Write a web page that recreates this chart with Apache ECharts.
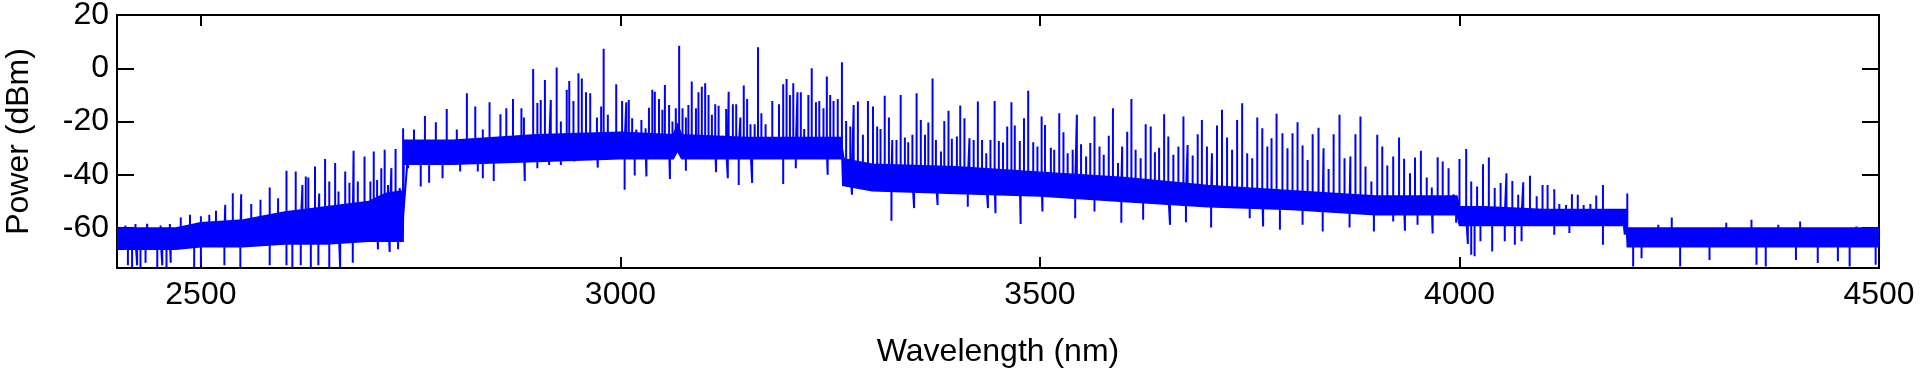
<!DOCTYPE html>
<html><head><meta charset="utf-8">
<script src="https://cdn.jsdelivr.net/npm/echarts@6/dist/echarts.min.js"></script>
<style>html,body{margin:0;padding:0;background:#fff}#c{width:1920px;height:378px}</style>
</head><body><div id="c"></div>
<script>
// ---- axis ticks ----
const xTicks = [2500, 3000, 3500, 4000, 4500];
const yTicks = [-60, -40, -20, 0, 20];

// ---- noise-floor envelope (nm, upper dBm, lower dBm) ----
const bandWl = [2400,2470,2500,2550,2600,2650,2700,2720,2741,2742,2800,2900,3000,3063,3068,3073,3150,3264,3265,3300,3400,3500,3600,3700,3800,3900,3997,4000,4030,4100,4199,4200,4300,4400,4500];
const bandHi = [-60,-60,-58,-57,-54,-52,-50,-47,-46,-27,-27,-25,-24,-25,-21,-25,-26,-26,-34,-36,-37,-39,-41,-44,-46,-48,-48,-52,-52,-53,-53,-60,-60,-60,-60];
const bandLo = [-68,-68,-67,-67,-66,-66,-65,-65,-65,-36,-36,-35,-34,-34,-31,-34,-34,-34,-44,-46,-47,-48,-50,-52,-53,-55,-55,-59,-59,-59,-59,-67,-67,-67,-67];

// ---- comb lines (nm, peak dBm) ----
const combPeaks = [
[2410,-59],[2422,-58.5],[2436,-58.4],[2452,-59],[2463,-58.5],[2476,-56],[2487,-55],[2496,-58],[2500,-55.6],[2510,-55],
[2518,-53.5],[2529,-51.3],[2538,-46.9],[2548,-47.3],[2560,-51],[2571,-49.4],[2582,-44.8],[2592,-48.8],[2602,-38.5],[2613,-38.8],
[2621,-43.8],[2625,-40.6],[2628,-41],[2636,-36.9],[2641,-47],[2648,-34.1],[2653,-42.5],[2660,-35.6],[2664,-46.3],[2672,-38.8],
[2677,-43],[2682,-31],[2687,-42.5],[2695,-33.1],[2702,-42.5],[2706,-31.3],[2710,-42],[2715,-37.5],[2719,-30.6],[2723,-43.8],
[2727,-37.5],[2732,-30.3],[2737,-45],[2741,-22.5],[2754,-23],[2767,-17.9],[2780,-20.3],[2793,-15.3],[2805,-23],[2817,-9.4],
[2827,-14.4],[2836,-23],[2844,-12.8],[2857,-17.3],[2864,-15],[2872,-11.5],[2882,-15],[2885,-18.5],[2896,-0.3],[2901,-13],
[2905,-11.9],[2910,-4.4],[2917,-11.9],[2924,0.3],[2929,-20],[2936,-8.1],[2939,-4.8],[2944,-12.3],[2950,-1.9],[2954,-3.8],
[2959,-9],[2964,-9.4],[2972,-18.5],[2977,-14.4],[2980,7.3],[2985,-17.5],[2995,-6],
[3002,-12.3],[3007,-12.8],[3010,-11.9],[3014,-18.8],[3019,-23],[3025,-19.4],[3030,-22.5],[3034,-14.8],[3038,-8.1],[3041,-8.8],
[3046,-11.5],[3050,-15.6],[3053,-6.3],[3058,-13.8],[3062,-20],[3066,-15],[3070,8.5],[3074,-15],[3078,-18.5],[3081,-13.8],
[3085,-5],[3090,-15],[3093,-9],[3097,-6.9],[3101,-5.6],[3105,-10],[3109,-17.5],[3113,-13.5],[3117,-14.1],[3122,-25.3],
[3126,-15.3],[3129,-8.8],[3134,-13.5],[3138,-13.5],[3143,-18.5],[3147,-6.5],[3151,-11.5],[3155,-21],[3160,-21],[3164,7.9],
[3168,-16.9],[3173,-21],[3181,-12.3],[3189,-13.5],[3194,-6],[3198,-4],[3202,-10],[3206,-5.6],[3211,-9],[3215,-9],
[3219,-22.8],[3224,-10],[3228,0],[3233,-12.8],[3237,-12.3],[3242,-15],[3246,-3.1],[3250,-10],[3254,-12.3],[3259,-11.5],
[3264,2.3],[3269,-19.8],[3274,-21.9],[3278,-13.8],[3283,-12.5],[3289,-25],[3295,-12.3],
[3301,-14.4],[3306,-21.9],[3310,-22.8],[3315,-10.3],[3320,-18.5],[3324,-26.9],[3329,-26.9],[3334,-10],[3339,-26],[3343,-27.8],
[3348,-25],[3353,-9.4],[3358,-19.4],[3363,-25],[3367,-20.4],[3372,-3.8],[3376,-26.9],[3382,-31.3],[3386,-19.8],[3391,-16],
[3395,-26.5],[3401,-25.6],[3405,-14],[3410,-18.8],[3416,-26.3],[3421,-26.9],[3426,-12.5],[3431,-26.9],[3436,-31.9],[3441,-26.9],
[3446,-12.3],[3451,-27.3],[3456,-27.9],[3461,-21.9],[3466,-12.8],[3470,-21.5],[3476,-27.3],[3481,-18.8],[3486,-8.4],[3492,-27.8],
[3497,-29.4],[3502,-18.1],[3506,-21.3],[3513,-29.8],[3517,-30.6],[3523,-16.9],[3528,-24],[3533,-31.9],[3539,-30.6],[3544,-17.5],
[3549,-28.5],[3555,-33.1],[3560,-28.1],[3565,-18.1],[3571,-29.4],[3576,-32.5],[3582,-25.3],[3587,-15],[3593,-35.6],[3598,-29.4],
[3604,-23.8],[3609,-11.5],[3614,-30.6],[3620,-33.8],[3626,-21],[3632,-21.9],[3637,-31.5],[3642,-29.8],[3648,-17.3],[3653,-25.6],
[3659,-32.5],[3665,-29.4],[3671,-18.1],[3676,-28.8],[3682,-32.8],[3688,-24.8],[3693,-19.4],[3699,-29.4],[3705,-31.9],[3711,-21.5],
[3717,-15.6],[3723,-26],[3729,-30.6],[3735,-19.4],[3741,-13.1],[3747,-31.9],[3753,-33.8],[3759,-18.5],[3765,-22.5],[3771,-29.4],
[3776,-26.3],[3782,-17.1],[3789,-24.4],[3795,-30],[3801,-24.4],[3807,-20.3],[3813,-29],[3819,-34.4],[3825,-24.8],[3832,-22.3],
[3838,-30],[3844,-37.8],[3850,-24.8],[3857,-17.5],[3863,-33.8],[3870,-33.1],[3876,-24.8],[3882,-18.1],[3888,-36.9],[3895,-42.5],
[3902,-25],[3908,-29.4],[3914,-36.5],[3921,-33.1],[3928,-26],[3934,-34],[3941,-39.4],[3947,-33.5],[3954,-31],[3961,-41],
[3967,-44.8],[3974,-33.4],[3980,-35],[3987,-37.5],[3993,-47.3],[4000,-34.1],[4008,-30.3],[4014,-42.5],[4021,-44.4],[4028,-36],
[4035,-33.5],[4042,-45],[4049,-43.1],[4056,-39.4],[4063,-42.3],[4070,-47.5],[4076,-42.8],[4084,-40.4],[4092,-48.1],[4099,-43.8],
[4105,-43.8],[4113,-45.4],[4119,-51],[4127,-51.3],[4134,-47.3],[4141,-47.5],[4148,-51.3],[4156,-51],[4163,-47.8],[4171,-43.8],
[4179,-53.1],[4186,-53.4],[4195,-53.8],[4200,-47],
[4237,-58.8],[4253,-56],[4318,-58],[4348,-56.9],[4380,-58.8],[4406,-57.5],[4473,-59.4]
];

// ---- downward noise dips (nm, dBm) ----
const noiseDips = [
[2413,-74],[2418,-75],[2424,-74],[2428,-75],[2434,-73],[2448,-75],[2454,-74],[2459,-75],[2464,-73],[2492,-75],
[2500,-74],[2528,-74],[2547,-75],[2582,-74],[2602,-74],[2609,-75],[2619,-74],[2631,-75],[2640,-74],[2653,-75],
[2666,-75],[2681,-73],[2711,-68],[2725,-69],[2735,-68],
[2747,-37.5],[2762,-44.4],[2772,-43],[2788,-41.3],[2809,-38.8],[2830,-38.8],[2836,-41.3],[2849,-42.3],[2886,-42.3],[2901,-37.5],
[2915,-36.3],[2929,-36.3],[2945,-35],[2973,-37.3],
[3005,-45.6],[3017,-40.3],[3031,-40.6],[3059,-41.6],[3078,-38.5],[3114,-39],[3128,-41.3],[3141,-43.8],[3157,-43.1],[3194,-43.5],
[3209,-37.5],[3247,-40],[3276,-47.5],
[3323,-57.3],[3350,-52.5],[3378,-51.3],[3414,-52],[3438,-52.5],[3447,-54.4],[3477,-58.5],[3503,-53.8],[3542,-56.3],[3565,-53.8],
[3597,-58],[3623,-56.9],[3655,-58.8],[3674,-57.8],[3704,-59.8],[3750,-56.3],[3766,-59.4],[3786,-60.6],[3813,-58.8],[3837,-61.3],
[3869,-59.8],[3898,-61.3],[3921,-57.5],[3935,-61],[3950,-58.8],[3968,-62],[3996,-58],[4010,-66],[4014,-70],[4018,-70.6],
[4025,-65],[4039,-68.8],[4054,-65],[4066,-66.3],[4074,-65],[4113,-62.5],[4131,-61.9],[4171,-66.3],[4197,-62.5],
[4207,-74.4],[4217,-71.3],[4263,-74.4],[4298,-72],[4354,-73.8],[4365,-74.4],[4401,-72],[4427,-73.1],[4451,-72.5],[4465,-74.4],
[4496,-73.8]
];

// anchor of each spike inside the noise band (middle of the envelope)
function bandMid(w) {
  for (let i = 1; i < bandWl.length; i++) {
    if (w <= bandWl[i]) {
      const t = (w - bandWl[i - 1]) / (bandWl[i] - bandWl[i - 1]);
      const a = (bandHi[i - 1] + bandLo[i - 1]) / 2, b = (bandHi[i] + bandLo[i]) / 2;
      return a + (b - a) * t;
    }
  }
  const n = bandWl.length - 1;
  return (bandHi[n] + bandLo[n]) / 2;
}
const marks = combPeaks.concat(noiseDips).sort((a, b) => a[0] - b[0]);
const trace = [];
marks.forEach(([w, v]) => { const m = bandMid(w); trace.push([w, m], [w, v], [w, m]); });

const BLUE = '#0000ff';
const FONT = 'Liberation Sans';
const axisLineStyle = { color: '#000', width: 2 };
const plain = v => String(v);
const chart = echarts.init(document.getElementById('c'), null, { renderer: 'canvas' });
chart.setOption({
  animation: false,
  backgroundColor: '#fff',
  grid: { left: 117, right: 41, top: 15, bottom: 110, containLabel: false, outerBoundsMode: 'none' },
  xAxis: [
    { type: 'value', min: 2400, max: 4500, position: 'bottom',
      axisLine: { show: true, onZero: false, lineStyle: axisLineStyle },
      axisTick: { show: true, inside: true, length: 11, lineStyle: axisLineStyle, customValues: xTicks },
      axisLabel: { customValues: xTicks, formatter: plain, color: '#000', fontSize: 32, fontFamily: FONT, margin: 11 },
      splitLine: { show: false },
      name: 'Wavelength (nm)', nameLocation: 'middle', nameGap: 68,
      nameTextStyle: { color: '#000', fontSize: 32, fontFamily: FONT } },
    { type: 'value', min: 2400, max: 4500, position: 'top',
      axisLine: { show: true, onZero: false, lineStyle: axisLineStyle },
      axisTick: { show: true, inside: true, length: 11, lineStyle: axisLineStyle, customValues: xTicks },
      axisLabel: { show: false }, splitLine: { show: false } }
  ],
  yAxis: [
    { type: 'value', min: -75, max: 20, position: 'left',
      axisLine: { show: true, onZero: false, lineStyle: axisLineStyle },
      axisTick: { show: true, inside: true, length: 17, lineStyle: axisLineStyle, customValues: yTicks },
      axisLabel: { customValues: yTicks, formatter: plain, color: '#000', fontSize: 32, fontFamily: FONT, margin: 8 },
      splitLine: { show: false },
      name: 'Power (dBm)', nameLocation: 'middle', nameGap: 82,
      nameTextStyle: { color: '#000', fontSize: 32, fontFamily: FONT } },
    { type: 'value', min: -75, max: 20, position: 'right',
      axisLine: { show: true, onZero: false, lineStyle: axisLineStyle },
      axisTick: { show: true, inside: true, length: 17, lineStyle: axisLineStyle, customValues: yTicks },
      axisLabel: { show: false }, splitLine: { show: false } }
  ],
  series: [
    { type: 'custom', name: 'noise floor', coordinateSystem: 'cartesian2d', clip: true, silent: true,
      data: [[bandWl[0], bandHi[0]]],
      renderItem: (params, api) => {
        const pts = bandWl.map((w, i) => api.coord([w, bandHi[i]]));
        for (let i = bandWl.length - 1; i >= 0; i--) pts.push(api.coord([bandWl[i], bandLo[i]]));
        return { type: 'polygon', shape: { points: pts }, style: { fill: BLUE, stroke: BLUE, lineWidth: 1.5 } };
      } },
    { type: 'line', name: 'spectrum', data: trace, symbol: 'none', silent: true,
      lineStyle: { color: BLUE, width: 2 } }
  ]
});
</script></body></html>
